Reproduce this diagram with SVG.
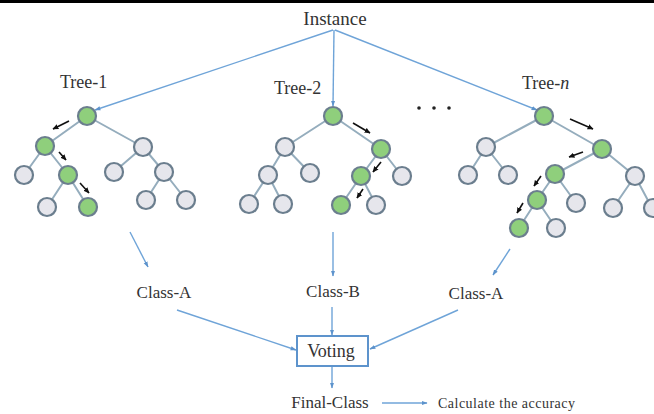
<svg xmlns="http://www.w3.org/2000/svg" width="654" height="414" viewBox="0 0 654 414">
  <defs>
    <marker id="blueHead" viewBox="0 0 10 10" refX="9" refY="5" markerWidth="6" markerHeight="6" orient="auto" markerUnits="userSpaceOnUse">
      <path d="M0,1.5 L10,5 L0,8.5 Z" fill="#5d93cc"/>
    </marker>
    <marker id="blackHead" viewBox="0 0 10 10" refX="9" refY="5" markerWidth="6" markerHeight="6" orient="auto" markerUnits="userSpaceOnUse">
      <path d="M0,0.5 L10,5 L0,9.5 Z" fill="#111"/>
    </marker>
    <style>
      text { font-family: "Liberation Serif", "Times New Roman", serif; fill: #333; }
      .lbl { font-size: 17px; text-anchor: middle; }
      .title { font-size: 18px; }
      .flow { stroke: #6fa4d8; stroke-width: 1.4; fill: none; marker-end: url(#blueHead); }
      .edge { stroke: #95adbd; stroke-width: 2; fill: none; }
      .node { stroke: #6b7e8e; stroke-width: 2.2; }
      .g { fill: #8fcf7c; }
      .n { fill: #e6e6ec; }
      .path { stroke: #111; stroke-width: 1.6; marker-end: url(#blackHead); }
      .dot { fill: #222; }
    </style>
  </defs>

  <rect x="0" y="0" width="654" height="414" fill="#ffffff"/>
  <rect x="0" y="0" width="654" height="3" fill="#000000"/>

  <!-- Connectors -->
  <g id="connectors">
    <line class="flow" x1="333" y1="30" x2="95" y2="110"/>
    <line class="flow" x1="334" y1="30" x2="333" y2="106"/>
    <line class="flow" x1="335" y1="30" x2="537" y2="110"/>
    <line class="flow" x1="130" y1="232" x2="148" y2="267"/>
    <line class="flow" x1="333" y1="232" x2="333" y2="276"/>
    <line class="flow" x1="510" y1="249" x2="493" y2="275"/>
    <line class="flow" x1="177" y1="310" x2="296" y2="350"/>
    <line class="flow" x1="332" y1="307" x2="332" y2="335"/>
    <line class="flow" x1="458" y1="310" x2="370" y2="349"/>
    <line class="flow" x1="332" y1="367" x2="332" y2="388"/>
    <line class="flow" x1="382" y1="403" x2="427" y2="403"/>
  </g>

  <!-- Instance -->
  <g id="instance">
    <text x="335" y="25" font-size="19" text-anchor="middle">Instance</text>
  </g>

  <!-- Tree 1 -->
  <g id="tree-1">
    <text class="title" x="60" y="88">Tree-1</text>
    <path class="edge" d="M87,116 L45,146 M87,116 L143,147 M45,146 L24,175 M45,146 L68,175 M68,175 L47,207 M68,175 L88,207 M143,147 L114,172 M143,147 L164,172 M164,172 L146,200 M164,172 L186,200"/>
    <circle class="node g" cx="87" cy="116" r="9"/>
    <circle class="node g" cx="45" cy="146" r="9"/>
    <circle class="node n" cx="143" cy="147" r="9"/>
    <circle class="node n" cx="24" cy="175" r="9"/>
    <circle class="node g" cx="68" cy="175" r="9"/>
    <circle class="node n" cx="47" cy="207" r="9"/>
    <circle class="node g" cx="88" cy="207" r="9"/>
    <circle class="node n" cx="114" cy="172" r="9"/>
    <circle class="node n" cx="164" cy="172" r="9"/>
    <circle class="node n" cx="146" cy="200" r="9"/>
    <circle class="node n" cx="186" cy="200" r="9"/>
    <line class="path" x1="69" y1="121" x2="53" y2="129"/>
    <line class="path" x1="59" y1="152" x2="66" y2="160"/>
    <line class="path" x1="80" y1="183" x2="89" y2="193"/>
  </g>

  <!-- Tree 2 -->
  <g id="tree-2">
    <text class="title" x="274" y="94">Tree-2</text>
    <path class="edge" d="M333,116 L285,147 M333,116 L381,149 M285,147 L268,175 M285,147 L310,173 M268,175 L249,204 M268,175 L283,204 M381,149 L361,176 M381,149 L402,176 M361,176 L341,205 M361,176 L376,205"/>
    <circle class="node g" cx="333" cy="116" r="9"/>
    <circle class="node n" cx="285" cy="147" r="9"/>
    <circle class="node g" cx="381" cy="149" r="9"/>
    <circle class="node n" cx="268" cy="175" r="9"/>
    <circle class="node n" cx="310" cy="173" r="9"/>
    <circle class="node n" cx="249" cy="204" r="9"/>
    <circle class="node n" cx="283" cy="204" r="9"/>
    <circle class="node g" cx="361" cy="176" r="9"/>
    <circle class="node n" cx="402" cy="176" r="9"/>
    <circle class="node g" cx="341" cy="205" r="9"/>
    <circle class="node n" cx="376" cy="205" r="9"/>
    <line class="path" x1="353" y1="123" x2="370" y2="133"/>
    <line class="path" x1="381" y1="162" x2="373" y2="172"/>
    <line class="path" x1="363" y1="189" x2="357" y2="198"/>
  </g>

  <!-- Ellipsis between trees -->
  <g id="ellipsis">
    <circle class="dot" cx="419" cy="108" r="1.8"/>
    <circle class="dot" cx="434" cy="108" r="1.8"/>
    <circle class="dot" cx="449" cy="108" r="1.8"/>
  </g>

  <!-- Tree n -->
  <g id="tree-n">
    <text class="title" x="522" y="89">Tree-<tspan font-style="italic">n</tspan></text>
    <path class="edge" d="M544,116 L486,147 M544,116 L602,149 M486,147 L468,175 M486,147 L508,175 M602,149 L555,174 M602,149 L635,176 M555,174 L537,200 M555,174 L576,203 M635,176 L613,208 M635,176 L652,208 M537,200 L519,228 M537,200 L556,228"/>
    <circle class="node g" cx="544" cy="116" r="9"/>
    <circle class="node n" cx="486" cy="147" r="9"/>
    <circle class="node g" cx="602" cy="149" r="9"/>
    <circle class="node n" cx="468" cy="175" r="9"/>
    <circle class="node n" cx="508" cy="175" r="9"/>
    <circle class="node g" cx="555" cy="174" r="9"/>
    <circle class="node n" cx="635" cy="176" r="9"/>
    <circle class="node g" cx="537" cy="200" r="9"/>
    <circle class="node n" cx="576" cy="203" r="9"/>
    <circle class="node n" cx="613" cy="208" r="9"/>
    <circle class="node n" cx="653" cy="208" r="9"/>
    <circle class="node g" cx="519" cy="228" r="9"/>
    <circle class="node n" cx="556" cy="228" r="9"/>
    <line class="path" x1="570" y1="119" x2="593" y2="129"/>
    <line class="path" x1="583" y1="152" x2="569" y2="157"/>
    <line class="path" x1="541" y1="176" x2="534" y2="186"/>
    <line class="path" x1="523" y1="203" x2="517" y2="213"/>
  </g>

  <!-- Class outputs -->
  <g id="class-a-1"><text class="lbl" x="164" y="298">Class-A</text></g>
  <g id="class-b"><text class="lbl" x="333" y="297">Class-B</text></g>
  <g id="class-a-n"><text class="lbl" x="476" y="299">Class-A</text></g>

  <!-- Voting -->
  <g id="voting">
    <rect x="297" y="336" width="71" height="30" fill="#ffffff" stroke="#5d93cc" stroke-width="2"/>
    <text x="331" y="357" font-size="18" text-anchor="middle">Voting</text>
  </g>

  <g id="final-class"><text class="lbl" x="330" y="408">Final-Class</text></g>
  <g id="accuracy"><text x="438" y="408" font-size="14" textLength="137">Calculate the accuracy</text></g>
</svg>
